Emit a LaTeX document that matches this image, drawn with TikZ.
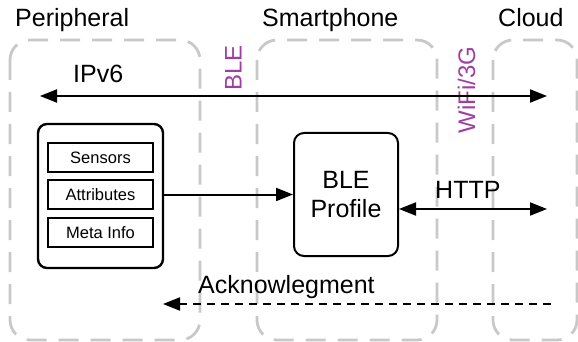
\documentclass[tikz,border=0pt]{standalone}
\usepackage{fontspec}
\setmainfont{Liberation Sans}
\usetikzlibrary{arrows.meta}
\definecolor{zonegray}{RGB}{200,200,200}
\definecolor{linkpurple}{RGB}{160,62,164}
\begin{document}
\begin{tikzpicture}[x=1pt,y=-1pt,
  zone/.style={draw=zonegray, line width=2.8pt, rounded corners=20pt, dash pattern=on 20pt off 12pt},
  title/.style={anchor=base west, inner sep=0pt, font=\fontsize{25}{30}\selectfont},
  lbl/.style={anchor=base west, inner sep=0pt, font=\fontsize{25}{30}\selectfont},
  linklbl/.style={rotate=90, anchor=base, inner sep=0pt, text=linkpurple, font=\fontsize{24}{28}\selectfont},
  container/.style={draw, line width=2.4pt, rounded corners=9pt, minimum width=125pt, minimum height=144pt},
  subbox/.style={draw, line width=1.4pt, minimum width=105pt, minimum height=29pt, inner sep=0pt, font=\fontsize{16.5}{20}\selectfont},
  profile/.style={draw, line width=2pt, rounded corners=10pt, minimum width=104pt, minimum height=123pt, align=center, font=\fontsize{25}{29}\selectfont},
  arr/.style={line width=2pt, -{Triangle[length=17pt,width=13pt]}},
  darr/.style={line width=2pt, {Triangle[length=17pt,width=13pt]}-{Triangle[length=17pt,width=13pt]}}
]
\useasboundingbox (0,0) rectangle (578,342);
% zones
\draw[zone] (10,40) rectangle (200,340);
\draw[zone] (257,40) rectangle (437,340);
\draw[zone] (493,40) rectangle (577,340);
% titles
\node[title] (tper) at (15,27) {Peripheral};
\node[title] (tsma) at (262,27) {Smartphone};
\node[title] (tclo) at (498,27) {Cloud};
% link labels
\node[linklbl] (lble) at (241.5,68) {BLE};
\node[linklbl] (lwifi) at (475,90) {WiFi/3G};
% IPv6
\coordinate (ipl) at (40,96);
\coordinate (ipr) at (547,96);
\draw[darr] (ipl) -- (ipr);
\node[lbl] (lipv6) at (73,83) {IPv6};
% peripheral container
\node[container] (cont) at (100.5,196) {};
\node[subbox] (sens) at (100.5,157.5) {Sensors};
\node[subbox] (attr) at (100.5,194.5) {Attributes};
\node[subbox] (meta) at (100.5,232.5) {Meta Info};
% BLE profile
\node[profile] (prof) at (346,194.5) {BLE\\Profile};
\draw[arr] (attr.east -| cont.east) -- (attr.east -| prof.west);
% HTTP
\coordinate (httpr) at (547,209);
\draw[darr] (prof.east |- httpr) -- (httpr);
\node[lbl] (lhttp) at (435,198) {HTTP};
% Acknowledgment
\coordinate (ackr) at (551,304);
\coordinate (ackl) at (163,304);
\draw[line width=2pt, dash pattern=on 8pt off 6pt, -{Triangle[length=17pt,width=13pt]}] (ackr) -- (ackl);
\node[lbl] (lack) at (198,293) {Acknowlegment};
\end{tikzpicture}
\end{document}
